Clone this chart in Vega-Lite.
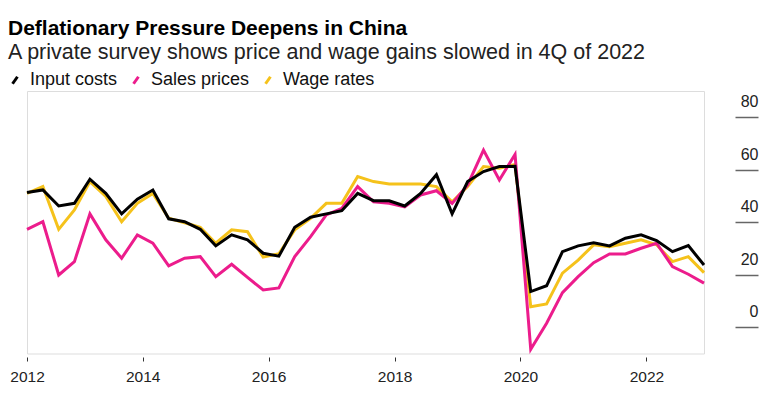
{
  "$schema": "https://vega.github.io/schema/vega-lite/v6.json",
  "autosize": {"type": "none"},
  "width": 677,
  "height": 262.5,
  "padding": {"left": 27, "top": 91, "right": 66, "bottom": 42.5},
  "background": "white",
  "title": {
    "text": "Deflationary Pressure Deepens in China",
    "subtitle": "A private survey shows price and wage gains slowed in 4Q of 2022",
    "anchor": "start",
    "frame": "group",
    "dx": -19,
    "font": "Liberation Sans",
    "fontSize": 21,
    "fontWeight": "bold",
    "color": "#000000",
    "subtitleFont": "Liberation Sans",
    "subtitleFontSize": 21.5,
    "subtitleColor": "#222222",
    "subtitlePadding": 3,
    "offset": 8
  },
  "data": {
    "values": [
      {"date": "2012-03-01", "Input costs": 51.3, "Sales prices": 37.3, "Wage rates": 51.0},
      {"date": "2012-06-01", "Input costs": 52.3, "Sales prices": 40.2, "Wage rates": 53.6},
      {"date": "2012-09-01", "Input costs": 46.2, "Sales prices": 19.9, "Wage rates": 37.3},
      {"date": "2012-12-01", "Input costs": 47.2, "Sales prices": 25.0, "Wage rates": 44.7},
      {"date": "2013-03-01", "Input costs": 56.4, "Sales prices": 43.2, "Wage rates": 55.5},
      {"date": "2013-06-01", "Input costs": 51.0, "Sales prices": 33.3, "Wage rates": 49.8},
      {"date": "2013-09-01", "Input costs": 43.2, "Sales prices": 26.3, "Wage rates": 40.2},
      {"date": "2013-12-01", "Input costs": 48.8, "Sales prices": 35.2, "Wage rates": 47.2},
      {"date": "2014-03-01", "Input costs": 52.3, "Sales prices": 32.0, "Wage rates": 51.0},
      {"date": "2014-06-01", "Input costs": 41.3, "Sales prices": 23.4, "Wage rates": 41.5},
      {"date": "2014-09-01", "Input costs": 40.2, "Sales prices": 26.3, "Wage rates": 39.8},
      {"date": "2014-12-01", "Input costs": 37.3, "Sales prices": 26.9, "Wage rates": 38.1},
      {"date": "2015-03-01", "Input costs": 31.0, "Sales prices": 19.3, "Wage rates": 32.0},
      {"date": "2015-06-01", "Input costs": 35.2, "Sales prices": 24.0, "Wage rates": 37.1},
      {"date": "2015-09-01", "Input costs": 33.3, "Sales prices": 19.0, "Wage rates": 36.4},
      {"date": "2015-12-01", "Input costs": 28.2, "Sales prices": 14.2, "Wage rates": 26.7},
      {"date": "2016-03-01", "Input costs": 27.1, "Sales prices": 15.0, "Wage rates": 28.0},
      {"date": "2016-06-01", "Input costs": 38.1, "Sales prices": 26.9, "Wage rates": 37.1},
      {"date": "2016-09-01", "Input costs": 41.9, "Sales prices": 34.5, "Wage rates": 41.5},
      {"date": "2016-12-01", "Input costs": 43.2, "Sales prices": 42.8, "Wage rates": 47.2},
      {"date": "2017-03-01", "Input costs": 44.4, "Sales prices": 45.3, "Wage rates": 47.2},
      {"date": "2017-06-01", "Input costs": 51.0, "Sales prices": 53.6, "Wage rates": 57.4},
      {"date": "2017-09-01", "Input costs": 48.2, "Sales prices": 47.8, "Wage rates": 55.5},
      {"date": "2017-12-01", "Input costs": 48.2, "Sales prices": 47.2, "Wage rates": 54.6},
      {"date": "2018-03-01", "Input costs": 46.2, "Sales prices": 45.9, "Wage rates": 54.6},
      {"date": "2018-06-01", "Input costs": 51.0, "Sales prices": 50.4, "Wage rates": 54.6},
      {"date": "2018-09-01", "Input costs": 58.1, "Sales prices": 52.0, "Wage rates": 53.6},
      {"date": "2018-12-01", "Input costs": 43.2, "Sales prices": 47.2, "Wage rates": 47.8},
      {"date": "2019-03-01", "Input costs": 55.5, "Sales prices": 54.2, "Wage rates": 53.6},
      {"date": "2019-06-01", "Input costs": 59.3, "Sales prices": 67.5, "Wage rates": 61.2},
      {"date": "2019-09-01", "Input costs": 61.2, "Sales prices": 56.1, "Wage rates": 60.6},
      {"date": "2019-12-01", "Input costs": 61.3, "Sales prices": 65.8, "Wage rates": 62.0},
      {"date": "2020-03-01", "Input costs": 13.6, "Sales prices": -8.4, "Wage rates": 7.8},
      {"date": "2020-06-01", "Input costs": 15.8, "Sales prices": 1.5, "Wage rates": 8.9},
      {"date": "2020-09-01", "Input costs": 28.8, "Sales prices": 13.2, "Wage rates": 20.6},
      {"date": "2020-12-01", "Input costs": 31.0, "Sales prices": 19.3, "Wage rates": 25.6},
      {"date": "2021-03-01", "Input costs": 32.2, "Sales prices": 24.6, "Wage rates": 31.4},
      {"date": "2021-06-01", "Input costs": 31.0, "Sales prices": 27.9, "Wage rates": 30.7},
      {"date": "2021-09-01", "Input costs": 33.9, "Sales prices": 27.9, "Wage rates": 32.0},
      {"date": "2021-12-01", "Input costs": 35.2, "Sales prices": 30.1, "Wage rates": 33.3},
      {"date": "2022-03-01", "Input costs": 33.0, "Sales prices": 32.0, "Wage rates": 31.4},
      {"date": "2022-06-01", "Input costs": 28.8, "Sales prices": 23.1, "Wage rates": 25.0},
      {"date": "2022-09-01", "Input costs": 31.1, "Sales prices": 20.2, "Wage rates": 26.9},
      {"date": "2022-12-01", "Input costs": 23.7, "Sales prices": 16.8, "Wage rates": 20.8}
    ]
  },
  "transform": [
    {"fold": ["Wage rates", "Sales prices", "Input costs"], "as": ["series", "value"]}
  ],
  "mark": {"type": "line", "strokeWidth": 3, "clip": false},
  "encoding": {
    "x": {
      "field": "date",
      "type": "temporal",
      "scale": {
        "type": "utc",
        "domain": [
          {"year": 2012, "month": 3, "date": 1, "utc": true},
          {"year": 2022, "month": 12, "date": 1, "utc": true}
        ]
      },
      "axis": {
        "title": null,
        "values": [
          {"year": 2012, "month": 3, "date": 1, "utc": true},
          {"year": 2014, "month": 1, "date": 1, "utc": true},
          {"year": 2016, "month": 1, "date": 1, "utc": true},
          {"year": 2018, "month": 1, "date": 1, "utc": true},
          {"year": 2020, "month": 1, "date": 1, "utc": true},
          {"year": 2022, "month": 1, "date": 1, "utc": true}
        ],
        "labelExpr": "utcFormat(datum.value, '%Y')",
        "domain": false,
        "grid": false,
        "offset": 3.5,
        "tickSize": 4,
        "tickColor": "#333333",
        "tickWidth": 1,
        "labelPadding": 8,
        "labelFont": "Liberation Sans",
        "labelFontSize": 15.5,
        "labelColor": "#222222",
        "labelFlush": false,
        "labelAlign": "center"
      }
    },
    "y": {
      "field": "value",
      "type": "quantitative",
      "scale": {"domain": [-10, 90], "nice": false, "zero": false},
      "axis": {
        "title": null,
        "orient": "right",
        "values": [0, 20, 40, 60, 80],
        "domain": false,
        "grid": false,
        "offset": 31,
        "tickSize": 23,
        "tickColor": "#666666",
        "tickWidth": 1.5,
        "labelAlign": "right",
        "labelBaseline": "alphabetic",
        "labelPadding": 0,
        "labelOffset": -10.5,
        "labelFont": "Liberation Sans",
        "labelFontSize": 16,
        "labelColor": "#222222"
      }
    },
    "color": {
      "field": "series",
      "type": "nominal",
      "scale": {
        "domain": ["Input costs", "Sales prices", "Wage rates"],
        "range": ["#000000", "#ec1c8c", "#f5c21b"]
      },
      "legend": {
        "title": null,
        "orient": "none",
        "legendX": -21,
        "legendY": -20,
        "direction": "horizontal",
        "symbolType": "M-0.35,0.5L0.35,-0.5",
        "symbolSize": 196,
        "symbolStrokeWidth": 3,
        "labelFont": "Liberation Sans",
        "labelFontSize": 18,
        "labelColor": "#111111",
        "labelOffset": 6,
        "columnPadding": 9
      }
    }
  }
}
